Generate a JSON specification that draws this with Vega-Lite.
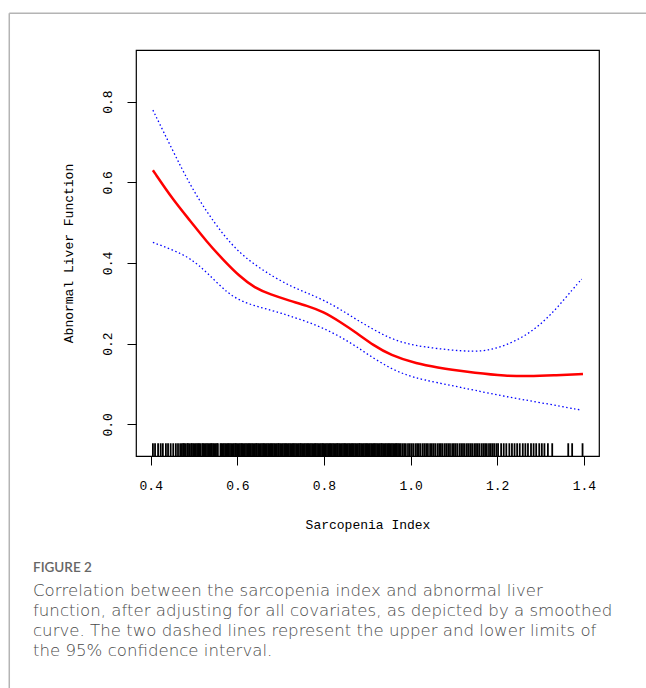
{
  "$schema": "https://vega.github.io/schema/vega-lite/v6.json",
  "width": 463,
  "height": 406,
  "autosize": {"type": "none"},
  "padding": {"left": 136, "top": 50, "right": 47, "bottom": 232},
  "background": "white",
  "config": {
    "view": {"stroke": "black", "strokeWidth": 1.2},
    "axis": {"grid": false, "domain": false, "tickColor": "black", "tickSize": 9, "tickWidth": 1,
             "labelColor": "black", "labelFont": "Liberation Mono", "labelFontSize": 13,
             "titleColor": "black", "titleFont": "Liberation Mono", "titleFontSize": 13, "titleFontWeight": "normal"}
  },
  "title": {
    "text": "FIGURE 2",
    "subtitle": [
      "Correlation between the sarcopenia index and abnormal liver",
      "function, after adjusting for all covariates, as depicted by a smoothed",
      "curve. The two dashed lines represent the upper and lower limits of",
      "the 95% confidence interval."
    ],
    "orient": "bottom",
    "anchor": "start",
    "frame": "group",
    "dx": -103,
    "dy": -128,
    "offset": 0,
    "font": "Lato",
    "fontSize": 13.5,
    "fontWeight": 600,
    "color": "#666666",
    "subtitleFont": "DejaVu Sans",
    "subtitleFontSize": 16.6,
    "subtitleFontWeight": 300,
    "subtitleColor": "#4a4a4a",
    "subtitleLineHeight": 20,
    "subtitlePadding": 9
  },
  "datasets": {
    "curves": [
      {"x": 0.405, "y": 0.630, "s": "fit"},
      {"x": 0.452, "y": 0.556, "s": "fit"},
      {"x": 0.491, "y": 0.505, "s": "fit"},
      {"x": 0.529, "y": 0.453, "s": "fit"},
      {"x": 0.568, "y": 0.407, "s": "fit"},
      {"x": 0.606, "y": 0.366, "s": "fit"},
      {"x": 0.640, "y": 0.338, "s": "fit"},
      {"x": 0.676, "y": 0.322, "s": "fit"},
      {"x": 0.722, "y": 0.306, "s": "fit"},
      {"x": 0.760, "y": 0.294, "s": "fit"},
      {"x": 0.799, "y": 0.279, "s": "fit"},
      {"x": 0.837, "y": 0.254, "s": "fit"},
      {"x": 0.876, "y": 0.226, "s": "fit"},
      {"x": 0.914, "y": 0.196, "s": "fit"},
      {"x": 0.953, "y": 0.172, "s": "fit"},
      {"x": 1.014, "y": 0.150, "s": "fit"},
      {"x": 1.068, "y": 0.140, "s": "fit"},
      {"x": 1.091, "y": 0.136, "s": "fit"},
      {"x": 1.145, "y": 0.128, "s": "fit"},
      {"x": 1.222, "y": 0.120, "s": "fit"},
      {"x": 1.268, "y": 0.119, "s": "fit"},
      {"x": 1.330, "y": 0.121, "s": "fit"},
      {"x": 1.398, "y": 0.125, "s": "fit"},
      {"x": 0.405, "y": 0.779, "s": "upper"},
      {"x": 0.452, "y": 0.676, "s": "upper"},
      {"x": 0.491, "y": 0.593, "s": "upper"},
      {"x": 0.529, "y": 0.527, "s": "upper"},
      {"x": 0.568, "y": 0.469, "s": "upper"},
      {"x": 0.606, "y": 0.424, "s": "upper"},
      {"x": 0.645, "y": 0.392, "s": "upper"},
      {"x": 0.683, "y": 0.366, "s": "upper"},
      {"x": 0.722, "y": 0.343, "s": "upper"},
      {"x": 0.760, "y": 0.326, "s": "upper"},
      {"x": 0.799, "y": 0.308, "s": "upper"},
      {"x": 0.838, "y": 0.285, "s": "upper"},
      {"x": 0.876, "y": 0.259, "s": "upper"},
      {"x": 0.914, "y": 0.235, "s": "upper"},
      {"x": 0.953, "y": 0.213, "s": "upper"},
      {"x": 0.990, "y": 0.200, "s": "upper"},
      {"x": 1.030, "y": 0.192, "s": "upper"},
      {"x": 1.091, "y": 0.184, "s": "upper"},
      {"x": 1.145, "y": 0.180, "s": "upper"},
      {"x": 1.184, "y": 0.184, "s": "upper"},
      {"x": 1.222, "y": 0.197, "s": "upper"},
      {"x": 1.261, "y": 0.217, "s": "upper"},
      {"x": 1.299, "y": 0.246, "s": "upper"},
      {"x": 1.338, "y": 0.288, "s": "upper"},
      {"x": 1.376, "y": 0.337, "s": "upper"},
      {"x": 1.395, "y": 0.360, "s": "upper"},
      {"x": 0.405, "y": 0.451, "s": "lower"},
      {"x": 0.452, "y": 0.432, "s": "lower"},
      {"x": 0.491, "y": 0.412, "s": "lower"},
      {"x": 0.529, "y": 0.378, "s": "lower"},
      {"x": 0.579, "y": 0.322, "s": "lower"},
      {"x": 0.620, "y": 0.300, "s": "lower"},
      {"x": 0.660, "y": 0.288, "s": "lower"},
      {"x": 0.700, "y": 0.276, "s": "lower"},
      {"x": 0.722, "y": 0.268, "s": "lower"},
      {"x": 0.760, "y": 0.255, "s": "lower"},
      {"x": 0.799, "y": 0.238, "s": "lower"},
      {"x": 0.838, "y": 0.217, "s": "lower"},
      {"x": 0.876, "y": 0.192, "s": "lower"},
      {"x": 0.914, "y": 0.164, "s": "lower"},
      {"x": 0.953, "y": 0.139, "s": "lower"},
      {"x": 0.990, "y": 0.122, "s": "lower"},
      {"x": 1.030, "y": 0.110, "s": "lower"},
      {"x": 1.091, "y": 0.097, "s": "lower"},
      {"x": 1.145, "y": 0.085, "s": "lower"},
      {"x": 1.222, "y": 0.068, "s": "lower"},
      {"x": 1.299, "y": 0.054, "s": "lower"},
      {"x": 1.395, "y": 0.035, "s": "lower"}
    ],
    "rug": [
      {"r":0.405},{"r":0.410},{"r":0.417},{"r":0.423},{"r":0.428},{"r":0.435},{"r":0.440},{"r":0.446},{"r":0.452},{"r":0.458},{"r":0.463},{"r":0.468},
      {"r":0.472},{"r":0.475},{"r":0.477},{"r":0.480},{"r":0.484},{"r":0.486},{"r":0.489},{"r":0.493},{"r":0.495},{"r":0.498},{"r":0.501},{"r":0.504},{"r":0.507},{"r":0.510},{"r":0.512},{"r":0.515},{"r":0.519},{"r":0.521},{"r":0.524},{"r":0.527},{"r":0.530},{"r":0.533},{"r":0.536},{"r":0.539},{"r":0.541},{"r":0.544},{"r":0.547},{"r":0.550},{"r":0.553},{"r":0.555},
      {"r":0.561},{"r":0.563},{"r":0.566},{"r":0.569},{"r":0.572},{"r":0.575},{"r":0.578},{"r":0.580},{"r":0.583},{"r":0.586},{"r":0.589},{"r":0.592},{"r":0.595},{"r":0.597},{"r":0.600},{"r":0.603},{"r":0.606},{"r":0.609},{"r":0.611},{"r":0.614},{"r":0.617},{"r":0.620},{"r":0.623},{"r":0.626},{"r":0.628},{"r":0.631},{"r":0.634},{"r":0.637},{"r":0.640},{"r":0.643},{"r":0.645},{"r":0.648},{"r":0.651},{"r":0.654},{"r":0.657},{"r":0.660},{"r":0.662},{"r":0.665},{"r":0.668},{"r":0.671},{"r":0.674},{"r":0.677},{"r":0.679},{"r":0.682},{"r":0.685},{"r":0.688},{"r":0.691},{"r":0.694},{"r":0.696},{"r":0.699},{"r":0.702},{"r":0.705},{"r":0.708},{"r":0.711},{"r":0.713},{"r":0.716},{"r":0.719},{"r":0.722},{"r":0.725},{"r":0.728},{"r":0.730},{"r":0.733},{"r":0.736},{"r":0.739},{"r":0.742},{"r":0.745},{"r":0.747},{"r":0.750},{"r":0.753},{"r":0.756},{"r":0.759},{"r":0.762},{"r":0.764},{"r":0.767},{"r":0.770},{"r":0.773},{"r":0.776},{"r":0.779},{"r":0.781},{"r":0.784},{"r":0.787},{"r":0.790},{"r":0.793},{"r":0.796},{"r":0.798},{"r":0.801},{"r":0.804},{"r":0.807},{"r":0.810},{"r":0.813},{"r":0.815},{"r":0.818},{"r":0.821},{"r":0.824},{"r":0.827},{"r":0.830},{"r":0.832},{"r":0.835},{"r":0.838},{"r":0.841},{"r":0.844},{"r":0.847},{"r":0.849},{"r":0.852},{"r":0.855},{"r":0.858},{"r":0.861},{"r":0.864},{"r":0.866},{"r":0.869},{"r":0.872},{"r":0.875},{"r":0.878},{"r":0.881},{"r":0.883},{"r":0.886},{"r":0.889},{"r":0.892},{"r":0.895},{"r":0.898},{"r":0.900},{"r":0.903},{"r":0.906},{"r":0.909},{"r":0.912},{"r":0.915},{"r":0.917},{"r":0.920},{"r":0.923},{"r":0.926},{"r":0.929},{"r":0.932},{"r":0.934},{"r":0.937},{"r":0.940},{"r":0.943},{"r":0.946},{"r":0.949},{"r":0.951},{"r":0.954},{"r":0.957},{"r":0.960},{"r":0.963},{"r":0.966},{"r":0.968},{"r":0.971},{"r":0.974},{"r":0.977},
      {"r":0.981},{"r":0.985},{"r":0.989},{"r":0.994},{"r":0.998},{"r":1.002},{"r":1.006},{"r":1.011},{"r":1.015},{"r":1.019},{"r":1.023},{"r":1.028},{"r":1.032},{"r":1.036},{"r":1.040},{"r":1.045},{"r":1.049},{"r":1.053},{"r":1.057},{"r":1.062},{"r":1.066},{"r":1.070},{"r":1.074},{"r":1.079},{"r":1.083},{"r":1.087},{"r":1.091},{"r":1.096},{"r":1.100},{"r":1.104},{"r":1.108},{"r":1.113},{"r":1.117},{"r":1.121},{"r":1.125},{"r":1.130},{"r":1.134},{"r":1.138},{"r":1.142},{"r":1.147},{"r":1.151},{"r":1.155},{"r":1.159},{"r":1.164},{"r":1.168},{"r":1.172},{"r":1.176},{"r":1.181},{"r":1.185},{"r":1.189},{"r":1.193},{"r":1.198},{"r":1.202},
      {"r":1.209},{"r":1.215},{"r":1.221},{"r":1.228},{"r":1.234},{"r":1.240},{"r":1.246},{"r":1.252},{"r":1.259},{"r":1.265},{"r":1.271},{"r":1.278},{"r":1.284},{"r":1.290},{"r":1.297},{"r":1.303},{"r":1.309},{"r":1.317},{"r":1.327},{"r":1.364},{"r":1.373},{"r":1.397}
    ]
  },
  "layer": [
    {
      "data": {"name": "rug"},
      "mark": {"type": "rule", "color": "black", "strokeWidth": 1.8, "opacity": 1},
      "encoding": {
        "x": {"field": "r", "type": "quantitative",
              "scale": {"domain": [0.366, 1.435], "nice": false, "zero": false},
              "axis": {"values": [0.4, 0.6, 0.8, 1.0, 1.2, 1.4], "format": ".1f", "labelPadding": 14,
                       "title": "Sarcopenia Index", "titlePadding": 26}},
        "y": {"datum": -0.047, "type": "quantitative",
              "scale": {"domain": [-0.0786, 0.928], "nice": false, "zero": false},
              "axis": {"values": [0, 0.2, 0.4, 0.6, 0.8], "format": ".1f", "labelAngle": -90,
                       "labelAlign": "center", "labelBaseline": "bottom", "labelPadding": 13,
                       "title": "Abnormal Liver Function", "titlePadding": 26}},
        "y2": {"datum": -0.0786}
      }
    },
    {
      "data": {"name": "curves"},
      "transform": [{"filter": "datum.s == 'upper' || datum.s == 'lower'"}],
      "mark": {"type": "line", "color": "#0000ff", "strokeWidth": 1.3, "strokeDash": [1.5, 2.5], "interpolate": "basis"},
      "encoding": {
        "x": {"field": "x", "type": "quantitative"},
        "y": {"field": "y", "type": "quantitative"},
        "detail": {"field": "s"}
      }
    },
    {
      "data": {"name": "curves"},
      "transform": [{"filter": "datum.s == 'fit'"}],
      "mark": {"type": "line", "color": "#ff0000", "strokeWidth": 2.5, "interpolate": "basis"},
      "encoding": {
        "x": {"field": "x", "type": "quantitative"},
        "y": {"field": "y", "type": "quantitative"}
      }
    },
    {
      "data": {"values": [{}]},
      "mark": {"type": "rule", "color": "#b4b4b4", "strokeWidth": 1.5},
      "encoding": {
        "x": {"datum": 0.0734, "type": "quantitative"},
        "x2": {"datum": 1.6},
        "y": {"datum": 1.019, "type": "quantitative"}
      }
    },
    {
      "data": {"values": [{}]},
      "mark": {"type": "rule", "color": "#b4b4b4", "strokeWidth": 1.5},
      "encoding": {
        "x": {"datum": 0.0734, "type": "quantitative"},
        "y": {"datum": 1.019, "type": "quantitative"},
        "y2": {"datum": -0.654}
      }
    }
  ]
}
